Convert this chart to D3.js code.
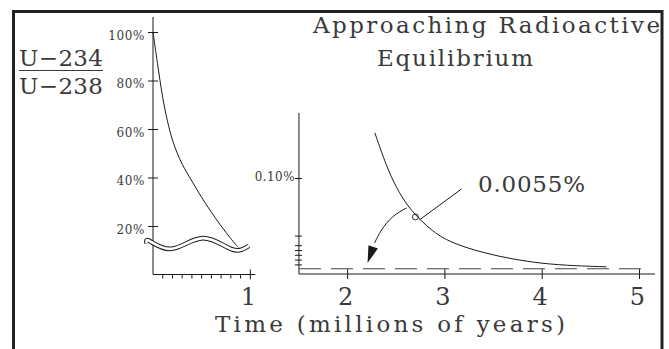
<!DOCTYPE html>
<html>
<head>
<meta charset="utf-8">
<script src="https://cdn.jsdelivr.net/npm/d3@7"></script>
<style>
  html, body { margin: 0; padding: 0; background: #fff; }
  svg { display: block; }
</style>
</head>
<body>
<div id="chart"></div>
<script>
// ── Data ─────────────────────────────────────────────────────────────────────
// left panel: U-234/U-238 excess (%) vs time (Myr)
const leftT = [0, 0.05, 0.10, 0.15, 0.20, 0.25, 0.30, 0.40, 0.50, 0.60, 0.70, 0.80, 0.875];
const leftV = [100, 86, 73, 63, 55.5, 50, 45.5, 38.5, 31.8, 25.7, 20.0, 14.8, 11.2];

// right panel: zoomed-in tail (%)
const rightT = [2.28, 2.40, 2.50, 2.62, 2.75, 2.87, 3.00, 3.22, 3.56, 3.90, 4.25, 4.66];
const rightV = [0.147, 0.112, 0.090, 0.070, 0.056, 0.045, 0.036, 0.027, 0.018, 0.012, 0.0088, 0.0075];

const equilibrium = 0.0055;          // dashed line, %

const leftTicks  = [20, 40, 60, 80, 100];
const leftMinorX = [0.1, 0.2, 0.3, 0.4, 0.5, 0.6, 0.7, 0.8, 0.9];
const rightTicks = [0.01, 0.015, 0.02, 0.025, 0.03, 0.04, 0.10];
const xTicks     = [1, 2, 3, 4, 5];

// axis-break squiggle (left panel), in data units
const breakT = [-0.065, -0.035, 0.195, 0.513, 0.81, 0.985];
const breakV = [12.8, 13.8, 10.6, 15.0, 10.4, 11.8];

// annotation arrow from the curve down to the equilibrium line
const arrowT = [2.605, 2.462, 2.349, 2.277, 2.205];
const arrowV = [0.0688, 0.0594, 0.0458, 0.0323, 0.0115];
const leaderT = [3.17, 2.738];
const leaderV = [0.0885, 0.0563];

// ── Setup ───────────────────────────────────────────────────────────────────
const W = 669, H = 349;
const FONT = "DejaVu Serif, serif";
const INK = "#1a1a1a";
const TXT = "#3a3a3a";

const svg = d3.select("#chart").append("svg")
  .attr("width", W).attr("height", H)
  .attr("viewBox", `0 0 ${W} ${H}`);

const x  = d3.scaleLinear().domain([0, 5]).range([153, 639.5]);
const yL = d3.scaleLinear().domain([0, 100]).range([274.5, 32]);
const yR = d3.scaleLinear().domain([0, 0.1]).range([274, 178]);

// frame (bottom edge runs off the picture)
svg.append("rect")
  .attr("x", 13.5).attr("y", 11.5)
  .attr("width", 648.5).attr("height", 360)
  .attr("fill", "none").attr("stroke", "#222").attr("stroke-width", 3);

// ── Left panel axes ─────────────────────────────────────────────────────────
const gl = svg.append("g").attr("stroke", INK).attr("stroke-width", 1);
gl.append("line").attr("x1", x(0)).attr("x2", x(0)).attr("y1", 17).attr("y2", yL(0));
gl.append("line").attr("x1", x(0)).attr("x2", x(1) + 5).attr("y1", yL(0)).attr("y2", yL(0));

const yAxisL = svg.append("g")
  .attr("transform", `translate(${x(0)},0)`)
  .call(d3.axisLeft(yL).tickValues(leftTicks).tickSize(5).tickFormat(d => d + "%"));
yAxisL.select(".domain").remove();
yAxisL.selectAll(".tick line").attr("x1", -5).attr("x2", 5).attr("stroke", INK);
yAxisL.selectAll(".tick text")
  .attr("x", -8).attr("dy", "0.6em")
  .attr("font-family", FONT).attr("font-size", 12)
  .attr("letter-spacing", 0.6).attr("fill", TXT);

gl.selectAll("line.minor").data(leftMinorX).join("line")
  .attr("class", "minor")
  .attr("x1", d => x(d)).attr("x2", d => x(d))
  .attr("y1", yL(0)).attr("y2", yL(0) + 4);
gl.append("line").attr("x1", x(1)).attr("x2", x(1))
  .attr("y1", yL(0) - 5).attr("y2", yL(0) + 5);

// left curve
svg.append("path")
  .datum(leftT.map((t, i) => [t, leftV[i]]))
  .attr("d", d3.line().x(d => x(d[0])).y(d => yL(d[1])).curve(d3.curveCatmullRom))
  .attr("fill", "none").attr("stroke", INK).attr("stroke-width", 1);

// break squiggle: double line
const breakLine = d3.line().x(d => x(d[0])).y(d => yL(d[1])).curve(d3.curveNatural);
const breakPts = breakT.map((t, i) => [t, breakV[i]]);
svg.append("path").datum(breakPts).attr("d", breakLine)
  .attr("fill", "none").attr("stroke", INK).attr("stroke-width", 4.6);
svg.append("path").datum(breakPts).attr("d", breakLine)
  .attr("fill", "none").attr("stroke", "#fff").attr("stroke-width", 2.6);

// ── Right panel axes ────────────────────────────────────────────────────────
const x0R = x(1.5);
const gr = svg.append("g").attr("stroke", INK).attr("stroke-width", 1);
gr.append("line").attr("x1", x0R).attr("x2", x0R).attr("y1", 113).attr("y2", yR(0));
gr.append("line").attr("x1", x0R).attr("x2", 655).attr("y1", yR(0)).attr("y2", yR(0));

const yAxisR = svg.append("g")
  .attr("transform", `translate(${x0R},0)`)
  .call(d3.axisLeft(yR).tickValues(rightTicks).tickSize(4)
    .tickFormat(d => d === 0.1 ? "0.10%" : ""));
yAxisR.select(".domain").remove();
yAxisR.selectAll(".tick line").attr("x1", -4).attr("x2", 3).attr("stroke", INK);
yAxisR.selectAll(".tick text")
  .attr("x", -4).attr("dy", "0.2em")
  .attr("font-family", FONT).attr("font-size", 12)
  .attr("letter-spacing", 0.4).attr("fill", TXT);

gr.selectAll("line.major").data(xTicks.filter(d => d > 1.5)).join("line")
  .attr("class", "major")
  .attr("x1", d => x(d)).attr("x2", d => x(d))
  .attr("y1", yR(0) - 5).attr("y2", yR(0) + 5);

// equilibrium dashed line
svg.append("line")
  .attr("x1", x0R).attr("x2", 648)
  .attr("y1", yR(equilibrium)).attr("y2", yR(equilibrium))
  .attr("stroke", "#444").attr("stroke-width", 1.1)
  .attr("stroke-dasharray", "22,10");

// right curve
svg.append("path")
  .datum(rightT.map((t, i) => [t, rightV[i]]))
  .attr("d", d3.line().x(d => x(d[0])).y(d => yR(d[1])).curve(d3.curveBasis))
  .attr("fill", "none").attr("stroke", INK).attr("stroke-width", 1);

// ── Annotation ──────────────────────────────────────────────────────────────
const arrowPts = arrowT.map((t, i) => [x(t), yR(arrowV[i])]);
svg.append("path").datum(arrowPts.slice(0, -1))
  .attr("d", d3.line().curve(d3.curveNatural))
  .attr("fill", "none").attr("stroke", INK).attr("stroke-width", 1);
{
  const tip = arrowPts[arrowPts.length - 1];
  const prev = arrowPts[arrowPts.length - 2];
  const ang = Math.atan2(tip[1] - prev[1], tip[0] - prev[0]);
  const L = 17, hw = 5;
  const bx = tip[0] - L * Math.cos(ang), by = tip[1] - L * Math.sin(ang);
  const px = -Math.sin(ang) * hw, py = Math.cos(ang) * hw;
  svg.append("path")
    .attr("d", `M${tip[0]},${tip[1]}L${bx + px},${by + py}L${bx - px},${by - py}Z`)
    .attr("fill", INK);
}
svg.append("line")
  .attr("x1", x(leaderT[0])).attr("y1", yR(leaderV[0]))
  .attr("x2", x(leaderT[1])).attr("y2", yR(leaderV[1]))
  .attr("stroke", INK).attr("stroke-width", 1);
svg.append("circle")
  .attr("cx", x(leaderT[1]) - 4).attr("cy", yR(leaderV[1]) - 3).attr("r", 3)
  .attr("fill", "none").attr("stroke", INK).attr("stroke-width", 0.9);

// ── Text ────────────────────────────────────────────────────────────────────
function bigText(str, tx, ty, len, anchor) {
  return svg.append("text")
    .attr("x", tx).attr("y", ty)
    .attr("font-family", FONT).attr("font-size", 23)
    .attr("fill", TXT)
    .attr("text-anchor", anchor || "start")
    .attr("textLength", len).attr("lengthAdjust", "spacing")
    .text(str);
}

bigText("Approaching Radioactive", 313, 33, 347);
bigText("Equilibrium", 377, 66, 156);
bigText("0.0055%", 478, 192, 107);
bigText("Time (millions of years)", 215, 332, 350);

xTicks.forEach(d => {
  svg.append("text")
    .attr("x", x(d) - 2).attr("y", 305)
    .attr("text-anchor", "middle")
    .attr("font-family", FONT).attr("font-size", 24)
    .attr("fill", TXT)
    .text(d);
});

// y label as a fraction
bigText("U\u2212234", 19, 66, 84);
svg.append("line").attr("x1", 19).attr("x2", 103).attr("y1", 70.5).attr("y2", 70.5)
  .attr("stroke", TXT).attr("stroke-width", 1);
bigText("U\u2212238", 19, 94, 84);
</script>
</body>
</html>
